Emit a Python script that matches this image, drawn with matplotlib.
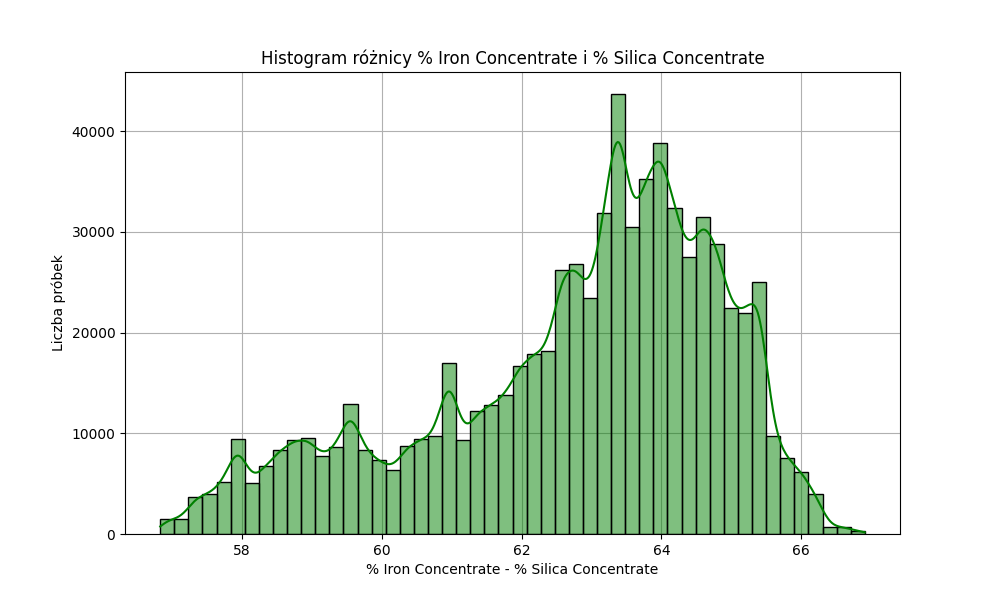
import numpy as np
import matplotlib
matplotlib.use("Agg")
import matplotlib.pyplot as plt

x_start = 56.83
x_end = 66.91
counts = [1500, 1500, 3700, 4000, 5200, 9400, 5100, 6800, 8300, 9300,
          9500, 7700, 8600, 12900, 8300, 7300, 6400, 8700, 9400, 9700,
          17000, 9300, 12200, 12800, 13800, 16700, 17900, 18200, 26200, 26800,
          23400, 31900, 43700, 30500, 35300, 38800, 32400, 27500, 31500, 28800,
          22400, 21900, 25000, 9700, 7500, 6200, 4000, 700, 700, 300]
title = "Histogram różnicy % Iron Concentrate i % Silica Concentrate"
xlabel = "% Iron Concentrate - % Silica Concentrate"
ylabel = "Liczba próbek"

counts = np.array(counts, dtype=float)
edges = np.linspace(x_start, x_end, len(counts) + 1)
centers = (edges[:-1] + edges[1:]) / 2
bw = edges[1] - edges[0]

fig, ax = plt.subplots(figsize=(10, 6), dpi=100)
ax.bar(edges[:-1], counts, width=bw, align='edge', color=(0, 0.5, 0, 0.5),
       edgecolor='black', linewidth=1, zorder=2)

# KDE smoothed from the binned counts
xs = np.linspace(x_start, x_end, 600)
h = 0.13
dens = np.zeros_like(xs)
for c, w in zip(centers, counts):
    dens += w * np.exp(-0.5 * ((xs - c) / h) ** 2) / (h * np.sqrt(2 * np.pi))
ax.plot(xs, dens * bw, color='green', linewidth=1.5, zorder=3)

ax.set_title(title)
ax.set_xlabel(xlabel)
ax.set_ylabel(ylabel)
ax.grid(True, zorder=0)
ax.set_axisbelow(True)
fig.savefig("out.png")
